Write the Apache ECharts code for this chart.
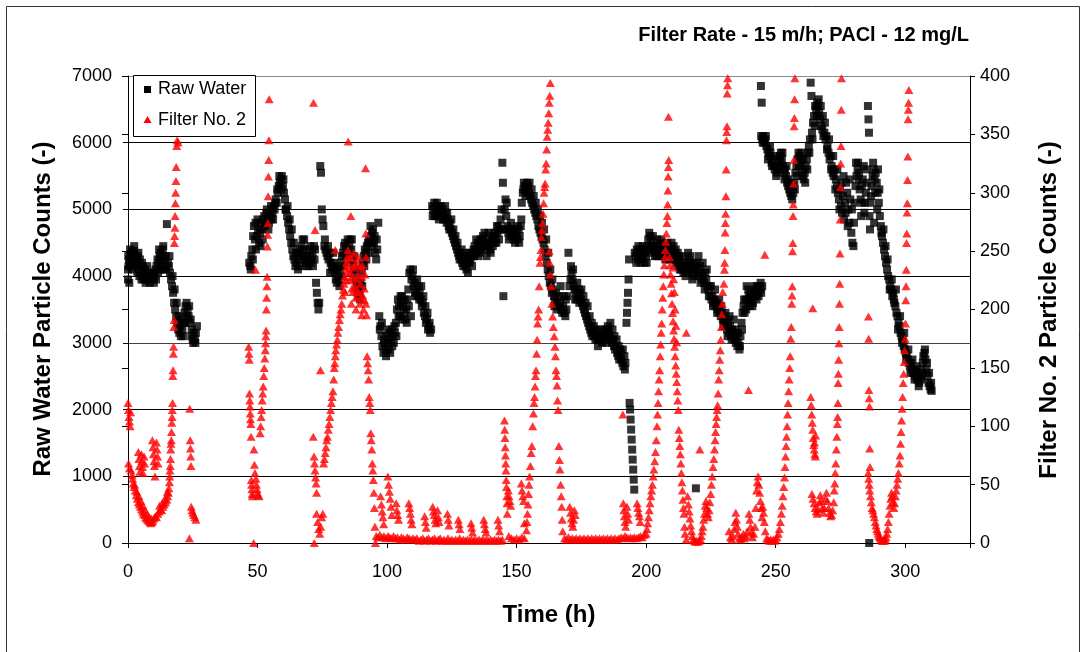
<!DOCTYPE html>
<html><head><meta charset="utf-8">
<script src="https://cdn.jsdelivr.net/npm/echarts@6/dist/echarts.min.js"></script>
<style>html,body{margin:0;padding:0;background:#fff}#c{width:1083px;height:652px}</style>
</head><body><div id="c"></div>
<script>
const xTicks=[0,50,100,150,200,250,300];
const leftTicks=[0,1000,2000,3000,4000,5000,6000,7000];
const rightTicks=[0,50,100,150,200,250,300,350,400];

// Raw water particle counts [time h, counts]
const rawA=[[0,3950],[0,4100],[0.1,4300],[0.2,4150],[0.4,4250],[0.7,4200],[1,4320],[1.4,4350],[1.8,4280],[2.2,4380],[2.6,4330],[3,4250],[3.4,4200],[3.8,4300],[4.2,4150],[4.6,4250],[5,4100],[5.4,4200],[5.8,4150],[6.2,4050],[6.6,4100],[7,4000],[7.4,4150],[7.8,4050],[8.2,3980],[8.6,4050],[9,4000],[9.4,3950],[9.8,4050],[10.2,4000],[10.6,4100],[11,4150],[11.4,4250],[11.8,4200],[12.2,4300],[12.6,4350],[13,4250],[13.4,4400],[13.8,4300],[14.2,4200],[14.6,4300],[15,4780],[15.4,4200],[15.8,4150],[16.2,4050],[16.6,3950],[17,3850],[17.4,3750],[17.8,3600],[18.2,3500],[18.6,3400],[19,3300],[19.4,3200],[19.8,3150],[20.2,3250],[20.6,3350],[21,3200],[21.4,3300],[21.8,3450],[22.2,3550],[22.6,3600],[23,3500],[23.4,3400],[23.8,3300],[24.2,3350],[24.6,3200],[25,3050],[25.4,3150],[25.8,3050],[26.2,3150],[26.6,3250]];
const rawA2=[[0.5,3900],[1.2,4150],[2,4100],[2.8,4150],[3.6,4050],[4.4,4000],[5.2,3950],[6,3950],[6.8,3900],[7.6,3950],[8.4,3900],[9.2,3950],[10,3900],[10.8,3950],[11.6,4050],[12.4,4100],[13.2,4150],[14,4100],[14.8,4100],[16,4300],[17.2,4000],[18,3800],[18.8,3600],[19.6,3400],[20.4,3100],[21.2,3100],[22,3300],[22.8,3400],[23.6,3550],[24.4,3100],[25.2,3000],[26,3000],[0.8,4400],[2.4,4450],[4,4350],[12,4400],[13.6,4450]];
const rawB=[[46.8,4200],[47.2,4150],[47.6,4300],[48,4400],[48.3,4600],[48.6,4750],[49,4550],[49.4,4400],[49.8,4600],[50.2,4700],[50.6,4500],[51,4650],[51.4,4800],[51.8,4700],[52.2,4850],[52.6,4900],[53,4800],[53.4,4950],[53.8,4850],[54.2,4700],[54.6,4900],[55,4950],[55.4,4850],[55.8,4950],[56.2,5050],[56.6,5000],[57,5150],[57.4,5100],[57.8,5250],[58.2,5350],[58.6,5400],[59,5450],[59.4,5500],[59.8,5350],[60.2,5250],[60.6,5150],[61,5000],[61.4,4900],[61.8,4800],[62.2,4700],[62.6,4600],[63,4500],[63.4,4400],[63.8,4300],[64.2,4250],[64.6,4150],[65,4200],[65.4,4350],[65.8,4250],[66.2,4150],[66.6,4350],[67,4450],[67.4,4550],[67.8,4400],[68.2,4250],[68.6,4200],[69,4300],[69.4,4250],[69.8,4400],[70.2,4300],[70.6,4200],[71,4250],[71.4,4150],[71.8,4450],[72.2,4400],[72.6,3900],[72.9,3750],[73.2,3600],[73.5,3500],[73.8,3600],[74.2,5650],[74.5,5550],[74.8,5000],[75.1,4850],[75.4,4750],[75.8,4450],[76.2,4400],[76.6,4350],[77,4300],[77.4,4250],[77.8,4350],[78.2,4200],[78.6,4150],[79,4100],[79.4,4200],[79.8,4050],[80.2,3950],[80.6,3900],[81,4000],[81.4,3950],[81.8,4100],[82.2,4200],[82.6,4300],[83,4350],[83.4,4450],[83.8,4500],[84.2,4400],[84.6,4300],[85,4350],[85.4,4450],[85.8,4550],[86.2,4400],[86.6,4250],[87,4150],[87.4,4050],[87.8,3950],[88.2,3850],[88.6,3750],[89,3700],[89.4,3750],[89.8,3900],[90.2,4050],[90.6,4200],[91,4300],[91.4,4400],[91.8,4350],[92.2,4450],[92.6,4500],[93,4550],[93.4,4500],[93.8,4600],[94.2,4650],[94.6,4700],[95,4500],[95.4,4350],[95.8,4250],[96.2,4400],[96.6,4800],[97,3400],[97.4,3250],[97.8,3100],[98.2,2950],[98.6,2850],[99,3000],[99.4,2900],[99.8,3100],[100.2,3000],[100.6,2900],[101,3150],[101.4,3050],[101.8,3200],[102.2,3100],[102.6,3000],[103,3150],[103.4,3300],[103.8,3500],[104.2,3650],[104.6,3550],[105,3400],[105.4,3600],[105.8,3700],[106.2,3550],[106.6,3450],[107,3350],[107.4,3500],[107.8,3650],[108.2,3800],[108.6,4050],[109,4100],[109.4,3950],[109.8,4000],[110.2,3850],[110.6,3900],[111,3750],[111.4,3800],[111.8,3700],[112.2,3850],[112.6,3750],[113,3650],[113.4,3550],[113.8,3600],[114.2,3450],[114.6,3400],[115,3300],[115.4,3350],[115.8,3200],[116.2,3250],[116.6,3150],[117,3200]];
const rawB2=[[47.4,4100],[48.2,4250],[49.2,4800],[50,4850],[51.2,4450],[52,4550],[52.8,4750],[53.6,5000],[54.4,4800],[55.2,5050],[56,4850],[56.8,5100],[57.6,5300],[58.4,5500],[59.2,5300],[60,5450],[60.8,5000],[61.6,5050],[62.4,4850],[63.2,4700],[64,4500],[64.8,4350],[65.6,4100],[66.4,4400],[67.2,4300],[68,4550],[68.8,4150],[69.6,4150],[70.4,4450],[71.2,4350],[72,4250],[76,4550],[77.2,4450],[78,4050],[79.2,4350],[80,4150],[80.8,4100],[81.6,3850],[82.4,4000],[83.2,4150],[84,4300],[84.8,4550],[85.6,4250],[86.4,4550],[87.2,4300],[88,4100],[88.8,3900],[89.6,3650],[90.4,3850],[91.2,4150],[92,4250],[92.8,4350],[93.6,4750],[94.4,4450],[95.2,4600],[96,4550],[97.2,3200],[98,3300],[98.8,3050],[99.6,2800],[100.4,3200],[101.2,2850],[102,2950],[102.8,3250],[103.6,3100],[104.4,3400],[105.2,3700],[106,3350],[106.8,3650],[107.6,3300],[108.4,3550],[109.2,3400],[110,4100],[110.8,3700],[111.6,3950],[112.4,3650],[113.2,3850],[114,3700],[114.8,3550],[115.6,3450],[116.4,3300]];
const rawC=[[117.4,5050],[117.8,5000],[118.2,5100],[118.6,4950],[119,4900],[119.4,5000],[119.8,5050],[120.2,4950],[120.6,4900],[121,4950],[121.4,5000],[121.8,4900],[122.2,4850],[122.6,4950],[123,4800],[123.4,4850],[123.8,4750],[124.2,4800],[124.6,4700],[125,4650],[125.4,4600],[125.8,4550],[126.2,4500],[126.6,4450],[127,4400],[127.4,4350],[127.8,4300],[128.2,4350],[128.6,4250],[129,4200],[129.4,4150],[129.8,4250],[130.2,4150],[130.6,4100],[131,4200],[131.4,4300],[131.8,4200],[132.2,4250],[132.6,4350],[133,4300],[133.4,4400],[133.8,4450],[134.2,4350],[134.6,4400],[135,4500],[135.4,4450],[135.8,4350],[136.2,4400],[136.6,4550],[137,4600],[137.4,4500],[137.8,4450],[138.2,4400],[138.6,4500],[139,4550],[139.4,4450],[139.8,4400],[140.2,4500],[140.6,4600],[141,4550],[141.4,4650],[141.8,4600],[142.2,4500],[142.6,4650],[143,4750],[143.4,4700],[143.8,4850],[144.2,5000],[144.5,5700],[144.7,5400],[144.9,3700],[145.1,4700],[145.4,5000],[145.7,5150],[146,4900],[146.4,4750],[146.8,4650],[147.2,4700],[147.6,4600],[148,4700],[148.4,4600],[148.8,4550],[149.2,4700],[149.6,4600],[150,4650],[150.4,4550],[150.8,4700],[151.2,4600],[151.6,4750],[152,5100],[152.4,5250],[152.8,5400],[153.2,5350],[153.6,5300],[154,5400],[154.4,5350],[154.8,5250],[155.2,5200],[155.6,5150],[156,5100],[156.4,5050],[156.8,5000],[157.2,4950],[157.6,4900],[158,4850],[158.4,4750],[158.8,4700],[159.2,4650],[159.6,4600],[160,4550],[160.4,4500],[160.8,4400],[161.2,4300],[161.6,4200],[162,4100],[162.4,4000],[162.8,3900],[163.2,3850],[163.6,3750],[164,3800],[164.4,3700],[164.8,3650],[165.2,3750],[165.6,3600],[166,3550]];
const rawC2=[[117.6,4900],[118.4,4900],[119.2,5100],[120,4850],[120.8,5050],[121.6,4850],[122.4,5050],[123.2,4950],[124,4700],[124.8,4850],[125.6,4700],[126.4,4600],[127.2,4500],[128,4250],[128.8,4400],[129.6,4350],[130.4,4300],[131.2,4050],[132,4350],[132.8,4150],[133.6,4300],[134.4,4550],[135.2,4300],[136,4550],[136.8,4450],[137.6,4650],[138.4,4300],[139.2,4650],[140,4350],[140.8,4450],[141.6,4500],[142.4,4750],[143.2,4550],[144,4700],[146.2,5100],[147,4550],[147.8,4800],[148.6,4700],[149.4,4500],[150.2,4750],[151,4500],[151.8,4850],[152.6,5300],[153.4,5200],[154.2,5250],[155,5400],[155.8,5300],[156.6,5200],[157.4,5100],[158.2,5000],[159,4900],[159.8,4800],[160.6,4700],[161.4,4550],[162.2,4350],[163,4100],[163.8,3950],[164.6,3550],[165.4,3500]];
const rawD=[[166.4,3700],[166.8,3600],[167.2,3500],[167.6,3450],[168,3550],[168.4,3450],[168.8,3400],[169.2,3500],[169.6,3700],[170,4350],[170.4,3850],[170.8,3950],[171.2,4050],[171.6,3950],[172,3850],[172.4,3800],[172.8,3750],[173.2,3650],[173.6,3700],[174,3800],[174.4,3750],[174.8,3650],[175.2,3600],[175.6,3550],[176,3500],[176.4,3450],[176.8,3400],[177.2,3350],[177.6,3300],[178,3250],[178.4,3200],[178.8,3150],[179.2,3100],[179.6,3150],[180,3100],[180.4,3050],[180.8,3100],[181.2,3050],[181.6,3100],[182,3050],[182.4,3100],[182.8,3150],[183.2,3100],[183.6,3050],[184,3100],[184.4,3150],[184.8,3200],[185.2,3250],[185.6,3200],[186,3100],[186.4,3050],[186.8,3000],[187.2,3050],[187.6,2950],[188,2900],[188.4,2950],[188.8,2850],[189.2,2800],[189.6,2750],[190,2900],[190.4,2750],[190.8,2700],[191.2,2650],[191.6,2800],[192,2700],[192.4,3300],[192.6,3450],[192.8,3600],[193,3750],[193.2,3950],[193.4,4250],[193.6,2100],[193.8,2000],[194,1850],[194.2,1700],[194.4,1550],[194.6,1400],[194.8,1250],[195,1100],[195.2,950],[195.4,800]];
const rawD2=[[167,3850],[168.2,3700],[169,3650],[171,4150],[171.8,4100],[172.6,3650],[173.4,3900],[174.2,3600],[175,3800],[175.8,3700],[176.6,3600],[177.4,3550],[178.2,3400],[179,3300],[179.8,3250],[180.6,3200],[181.4,2950],[182.2,3200],[183,3000],[183.8,3200],[184.6,3000],[185.4,3100],[186.2,3300],[187,3200],[187.8,3100],[188.6,3050],[189.4,2950],[190.2,2850],[191,2900],[191.8,2600]];
const rawE=[[195.6,4350],[196,4300],[196.4,4400],[196.8,4250],[197.2,4350],[197.6,4300],[198,4400],[198.4,4250],[198.8,4300],[199.2,4400],[199.6,4350],[200,4300],[200.4,4450],[200.8,4550],[201.2,4650],[201.6,4600],[202,4500],[202.4,4400],[202.8,4350],[203.2,4450],[203.6,4400],[204,4300],[204.4,4350],[204.8,4450],[205.2,4500],[205.6,4400],[206,4350],[206.4,4300],[206.8,4450],[207.2,4400],[207.6,4350],[208,4400],[208.4,4450],[208.8,4300],[209.2,4350],[209.6,4400],[210,4300],[210.4,4250],[210.8,4350],[211.2,4300],[211.6,4200],[212,4250],[212.4,4150],[212.8,4300],[213.2,4200],[213.6,4100],[214,4150],[214.4,4050],[214.8,4100],[215.2,4000],[215.6,4050],[216,4150],[216.4,4250],[216.8,4200],[217.2,4100],[217.6,4150],[218,4050],[218.4,4000],[218.8,4100],[219.2,820],[219.6,4200],[220,4100],[220.4,4000],[220.8,4150],[221.2,4050],[221.6,3950],[222,4000],[222.4,3900],[222.8,4050],[223.2,3950],[223.6,3850],[224,3800],[224.4,3850],[224.8,3700],[225.2,3650],[225.6,3700],[226,3600],[226.4,3650],[226.8,3550],[227.2,3600],[227.6,3500],[228,3550],[228.4,3450],[228.8,3400],[229.2,3450],[229.6,3350],[230,3300],[230.4,3250],[230.8,3350],[231.2,3200],[231.6,3300],[232,3150],[232.4,3250],[232.8,3100],[233.2,3200],[233.6,3150],[234,3050],[234.4,3200],[234.8,3100],[235.2,2950],[235.6,3000],[236,2900],[236.4,3100],[236.8,3300],[237.2,3450],[237.6,3550],[238,3450],[238.4,3650],[238.8,3850],[239.2,3600],[239.6,3700],[240,3550],[240.4,3650],[240.8,3700],[241.2,3600],[241.6,3750],[242,3700],[242.4,3800],[242.8,3850],[243.2,3750],[243.6,3850],[244,3800],[244.4,3750],[244.8,3850]];
const rawE2=[[196.2,4200],[197,4450],[197.8,4200],[198.6,4450],[199.4,4200],[200.2,4200],[201,4400],[201.8,4450],[202.6,4600],[203.4,4300],[204.2,4550],[205,4300],[205.8,4550],[206.6,4450],[207.4,4250],[208.2,4500],[209,4250],[209.8,4500],[210.6,4450],[211.4,4400],[212.2,4350],[213,4100],[213.8,4300],[214.6,4200],[215.4,4150],[216.2,4350],[217,4300],[217.8,3950],[218.6,4200],[220.2,4300],[221,3900],[221.8,4200],[222.6,3800],[223.4,4100],[224.2,3700],[225,3850],[225.8,3550],[226.6,3800],[227.4,3450],[228.2,3650],[229,3550],[229.8,3250],[230.6,3450],[231.4,3100],[232.2,3400],[233,3050],[233.8,3350],[234.6,3000],[235.4,3150],[236.2,2950],[237,3200],[237.8,3650],[238.6,3500],[239.4,3800],[240.2,3750],[241,3550],[241.8,3850],[242.6,3650],[243.4,3700],[244.2,3900]];
const rawF=[[244.3,6850],[244.6,6600],[244.4,6100],[244.8,6050],[245.2,6100],[245.6,6000],[246,6050],[246.4,5950],[246.8,5900],[247.2,5850],[247.6,5800],[248,5850],[248.4,5700],[248.8,5750],[249.2,5650],[249.6,5600],[250,5650],[250.4,5550],[250.8,5600],[251.2,5750],[251.6,5800],[252,5850],[252.4,5750],[252.8,5650],[253.2,5550],[253.6,5600],[254,5500],[254.4,5400],[254.8,5350],[255.2,5300],[255.6,5250],[256,5200],[256.4,5150],[256.8,5250],[257.2,5400],[257.6,5550],[258,5650],[258.4,5750],[258.8,5850],[259.2,5800],[259.6,5700],[260,5600],[260.4,5500],[260.8,5450],[261.2,5550],[261.6,5650],[262,5750],[262.4,5850],[262.8,5950],[263.2,6050],[263.5,6900],[263.8,6700],[264,6150],[264.4,6300],[264.8,6400],[265.2,6550],[265.6,6500],[266,6600],[266.4,6550],[266.8,6450],[267.2,6350],[267.6,6250],[268,6200],[268.4,6100],[268.8,6150],[269.2,6050],[269.6,6100],[270,5950],[270.4,5850],[270.8,5750],[271.2,5800],[271.6,5650],[272,5550],[272.4,5500],[272.8,5600],[273.2,5450],[273.6,5350],[274,5250],[274.4,5150],[274.8,5300],[275.2,5050],[275.6,4950],[276,5200],[276.4,4850],[276.8,5100],[277.2,5400],[277.6,5250],[278,5000],[278.4,4800],[278.8,5150],[279.2,4650],[279.6,4500],[280,4450],[280.4,5100],[280.8,5350],[281.2,5500],[281.6,5600],[281.8,5700],[282,5450],[282.4,5300],[282.8,5150],[283,4900],[283.2,5350],[283.6,5450],[284,5650],[284.4,5100],[284.8,5250],[285.2,5400],[285.6,6550],[285.8,6350],[286,6150],[286.1,0],[286.2,4900],[286.4,4700],[286.6,5100],[287,5350],[287.4,5500],[287.8,5600],[288,4800],[288.2,5450],[288.6,5550],[289,5400],[289.5,5600],[289.4,5250],[289.8,5100],[290.2,4900],[290.6,4750],[291,4600],[291.4,4500],[291.8,4400],[292.2,4300],[292.6,4200],[293,4100],[293.4,4000],[293.8,3950],[294.2,3850],[294.6,3800],[295,3700],[295.4,3750],[295.8,3600],[296.2,3550],[296.6,3450],[297,3400],[297.4,3300],[297.8,3250],[298.2,3150],[298.6,3100],[299,3050],[299.4,2950],[299.8,2900],[300.2,2850],[300.6,2800],[301,2750],[301.4,2700],[301.8,2650],[302.2,2700],[302.6,2600],[303,2550],[303.4,2600],[303.8,2500],[304.2,2550],[304.6,2450],[305,2500],[305.4,2400],[305.8,2500],[306.2,2450],[306.6,2550],[307,2800],[307.4,2850],[307.8,2750],[308.2,2600],[308.6,2500],[309,2400],[309.4,2350],[309.8,2300],[310.2,2280]];
const rawF2=[[245,6000],[246.2,6100],[247,5750],[247.8,5950],[248.6,5650],[249.4,5800],[250.2,5500],[251,5650],[251.8,5700],[252.6,5850],[253.4,5450],[254.2,5650],[255,5450],[255.8,5400],[256.6,5350],[257.4,5300],[258.2,5500],[259,5650],[259.8,5850],[260.6,5750],[261.4,5400],[262.2,5600],[263,5850],[264.2,6050],[265,6250],[265.8,6400],[266.6,6650],[267.4,6550],[268.2,6400],[269,6300],[269.8,5900],[270.6,6050],[271.4,5600],[272.2,5800],[273,5300],[273.8,5600],[274.6,5000],[275.4,5400],[276.2,5500],[277,4950],[277.8,4750],[278.6,5450],[279.4,5000],[280.2,4800],[281,5700],[282.2,5550],[283.4,5100],[284.2,4950],[285,5600],[286.8,5200],[287.6,5700],[288.4,5250],[289.2,5000],[290,5300],[290.8,4650],[291.6,4700],[292.4,4450],[293.2,4250],[294,3800],[294.8,3950],[295.6,3650],[296.4,3800],[297.2,3200],[298,3400],[298.8,3000],[299.6,3150],[300.4,2750],[301.2,2900],[302,2550],[302.8,2750],[303.6,2450],[304.4,2650],[305.2,2350],[306,2600],[306.8,2700],[307.6,2900],[308.4,2700],[309.2,2550],[310,2400]];

// Filter No. 2 particle counts [time h, counts]
const filtA=[[0,120],[0.2,114],[0.4,108],[0.6,104],[0.8,100],[1,112],[0.2,68],[0.6,64],[1.2,62],[1.6,58],[2,51],[2.4,48],[2.8,45],[3.2,41],[3.6,38],[4,35],[4.4,33],[4.8,31],[5.2,29],[5.6,27],[6,25],[6.4,24],[6.8,22],[7.2,21],[7.6,20],[8,19],[8.4,18],[8.8,17],[9.2,18],[9.6,19],[4,78],[4.2,72],[4.4,66],[4.6,61],[5.2,76],[5.4,70],[5.6,65],[5.8,60],[6.2,74],[6.4,68],[9.4,88],[9.6,82],[9.8,76],[10,70],[10.2,66],[10.4,57],[11,86],[11.2,80],[11.4,74],[11.6,68],[10,21],[10.5,23],[11,22],[11.5,25],[12,27],[12.5,29],[13,28],[13.5,31],[14,33],[14.5,35],[15,37],[15.3,40],[15.6,43],[15.8,47],[16,52],[16.1,57],[16.2,62],[16.3,66],[16.4,72],[16.5,80],[16.6,85],[16.7,88],[16.8,95],[16.9,103],[17,108],[17.1,114],[17.2,120],[17.3,143],[17.4,148],[17.5,162],[17.6,168],[17.7,185],[17.8,191],[17.9,257],[18,263],[18.1,270],[18.2,280],[18.3,291],[18.4,300],[18.5,310],[18.6,322],[18.8,340],[19,345],[19.3,343],[23.8,115],[24,88],[24.1,81],[24.2,74],[24.3,66],[23.7,4],[24.4,31],[24.7,28],[25,26],[25.4,24],[25.8,22],[26.2,20]];
const filtA2=[[1.8,55],[2.6,50],[3.4,44],[4.2,40],[5,36],[5.8,32],[6.6,28],[7.4,25],[8.2,22],[9,21],[12.2,32],[13.2,34],[14.2,38],[15.2,44],[84.2,225],[85,232],[85.6,245],[86.8,215],[87.5,238],[88.3,215],[89,245],[89.8,210],[90.5,238],[91.3,208],[83.8,215],[86.2,205],[88,200],[90.2,195]];
const filtB=[[46.6,168],[46.7,162],[46.8,157],[46.9,128],[47,122],[47.1,117],[47.2,111],[47.3,106],[47.4,102],[47.5,91],[47.6,54],[47.7,50],[47.8,46],[47.9,42],[48,40],[48.5,0],[48.6,80],[48.8,67],[49,60],[49.2,234],[49.4,55],[49.6,50],[49.8,46],[50,43],[50.3,41],[50.6,40],[51,94],[51.2,100],[51.4,108],[51.6,114],[51.8,122],[52,128],[52.2,134],[52.4,143],[52.6,150],[52.8,158],[53,165],[53.1,171],[53.2,177],[53.3,182],[53.4,200],[53.5,210],[53.6,220],[53.7,228],[53.8,254],[53.9,264],[54,274],[54.1,297],[54.2,314],[54.3,328],[54.4,345],[54.5,380]];
const filtC=[[71.6,377],[72.2,268],[71.5,91],[71.8,74],[72,68],[72.2,62],[72.4,56],[72.6,51],[72.8,43],[71.9,0],[72.8,25],[73.2,18],[73.6,12],[74,8],[74.4,14],[74.8,22],[75.2,25],[74.3,148],[75.5,68],[75.8,72],[76.1,77],[76.4,82],[76.7,88],[77,91],[77.3,97],[77.6,102],[77.9,108],[78.2,114],[78.5,120],[78.8,125],[79.1,130],[79.4,140],[79.6,150],[79.8,154],[80,160],[80.2,165],[80.5,170],[80.8,174],[81,180],[81.3,185],[81.6,191],[81.9,196],[82.2,200],[82.5,205],[82.8,212],[83.1,217],[80,251],[83.4,222],[83.7,228],[84,235],[84.3,240],[84.6,245],[84.9,251],[85.2,238],[85.5,225],[85.8,232],[86.1,244],[86.4,218],[86.7,228],[87,236],[87.3,248],[87.6,220],[87.9,210],[88.2,226],[88.5,240],[88.8,230],[89.1,215],[89.4,205],[89.7,222],[90,236],[90.3,228],[90.6,212],[90.9,200],[91.2,218],[91.5,230],[91.8,205],[92.1,195],[85,344],[86,280],[91.7,321],[91.8,265],[91.9,245],[92.3,160],[92.5,154],[92.7,148],[92.9,140],[93.1,125],[93.3,120],[93.5,114],[93.7,94],[93.9,88],[94.1,80],[94.3,68],[94.5,62],[94.7,54],[94.9,43],[95.1,30],[95.3,14],[95.5,0]];
const filtD=[[95.8,6],[96.5,5],[97.2,7],[98,5],[98.8,6],[99.5,4],[100.3,6],[101,5],[101.8,4],[102.5,6],[103.3,4],[104,5],[104.8,3],[105.5,5],[106.3,4],[107,3],[107.8,5],[108.5,4],[109.3,3],[110,4],[110.8,3],[111.5,4],[112.3,2],[113,3],[113.8,4],[114.5,2],[115.3,3],[116,4],[116.8,2],[117.5,3],[118.3,4],[119,2],[119.8,3],[120.5,4],[121.3,2],[122,3],[122.8,2],[123.5,4],[124.3,2],[125,3],[125.8,2],[126.5,3],[127.3,2],[128,4],[128.8,2],[129.5,3],[130.3,2],[131,3],[131.8,2],[132.5,3],[133.3,2],[134,3],[134.8,2],[135.5,3],[136.3,2],[137,3],[137.8,2],[138.5,3],[139.3,2],[140,3],[140.8,2],[141.5,3],[142.3,2],[143,3],[143.8,2],[144.5,3],[97.5,40],[97.8,33],[98.1,27],[98.4,22],[98.7,16],[100.3,57],[100.6,50],[100.9,44],[101.2,38],[101.5,31],[101.8,24],[103.5,34],[103.8,28],[104.1,24],[104.4,20],[108.4,34],[108.7,30],[109,25],[109.3,20],[109.6,16],[114.5,23],[114.8,18],[115.1,13],[117.6,31],[117.9,27],[118.2,24],[118.5,20],[118.8,17],[119.5,28],[119.8,22],[120.1,18],[123.3,25],[123.6,20],[123.9,15],[127.5,20],[127.8,16],[128.1,12],[132.4,17],[132.7,13],[133,9],[137.3,20],[137.6,16],[137.9,12],[138.2,9],[142.8,20],[143.1,15],[143.4,10],[145.3,105],[145.4,97],[145.5,90],[145.6,82],[145.7,75],[145.8,68],[145.9,62],[146,54],[146.1,48],[146.2,40],[146.3,34],[146.4,25],[146.8,45],[147.1,40],[147.4,36],[147.7,32],[151.8,51],[152.1,45],[152.4,40],[152.7,36],[153,17],[147,6],[148,4],[149,3],[150,4],[151,3],[152,5],[153,4]];
const filtE=[[153.8,11],[154,18],[154.2,25],[154.4,33],[154.6,42],[154.8,50],[155,57],[155.3,66],[155.6,77],[155.9,83],[156.2,100],[156.5,111],[156.7,120],[156.9,125],[157.1,134],[157.3,143],[157.5,148],[157.7,162],[157.9,174],[158.1,188],[158.3,194],[158.5,200],[158.7,220],[159,240],[159.2,245],[159.4,251],[159.6,262],[159.8,268],[160,274],[160.2,282],[160.4,291],[160.6,300],[160.8,305],[161,308],[161.2,320],[161.4,325],[161.6,337],[161.8,348],[162,354],[162.2,360],[162.4,368],[162.6,377],[162.8,383],[163,394],[162.6,250],[162.8,240],[163,230],[163.3,220],[163.6,205],[163.9,194],[164.2,185],[164.5,177],[164.8,168],[165,160],[165.2,148],[165.4,143],[165.6,135],[165.8,122],[166,114],[166.3,83],[166.5,71],[166.7,63],[167,50],[167.2,40],[167.4,31],[167.6,20],[167.8,10]];
const filtF=[[168.5,4],[169.2,3],[170,5],[170.8,3],[171.5,4],[172.3,3],[173,4],[173.8,3],[174.5,4],[175.3,3],[176,4],[176.8,3],[177.5,4],[178.3,3],[179,4],[179.8,3],[180.5,4],[181.3,3],[182,4],[182.8,3],[183.5,4],[184.3,3],[185,4],[185.8,3],[186.5,4],[187.3,3],[188,4],[188.8,3],[189.5,4],[190.3,5],[191,4],[191.8,6],[192.5,5],[193.3,4],[194,5],[194.8,4],[195.5,5],[196.3,4],[197,5],[197.8,6],[198.5,5],[199.3,7],[200,8],[170.5,31],[170.8,26],[171.1,21],[171.4,17],[171.7,14],[172,20],[172.3,28],[172.6,24],[191,110],[191.2,34],[191.4,28],[191.6,23],[191.8,18],[192.1,14],[192.6,31],[192.9,25],[193.2,20],[196.5,34],[196.8,30],[197.1,26],[197.4,23],[197.7,18],[200.3,12],[200.6,17],[200.9,22],[201.2,28],[201.5,34],[201.8,40],[202.1,45],[202.4,50],[202.7,57],[203,63],[203.3,70],[203.6,78],[203.9,88],[204.2,100],[204.4,110],[204.6,120],[204.8,130],[205,140],[205.2,148],[205.4,160],[205.6,170],[205.8,180],[206,188],[206.2,200],[206.4,210],[206.6,220],[206.8,230],[207,238],[207.2,245],[207.4,251],[207.6,258],[207.8,265],[208,274],[208.2,280],[208.3,290],[208.4,302],[208.5,314],[208.6,322],[208.7,328],[208.6,365],[209,245],[209.2,238],[209.4,230],[209.6,222],[209.8,214],[210,205],[210.2,197],[210.4,190],[210.6,182],[210.8,175],[211,168],[211.2,160],[211.4,152],[211.6,145],[211.8,138],[212,130],[212.2,122],[212.4,114],[210.3,236],[210.6,226],[210.9,215],[211.2,200],[211.5,186],[211.8,172],[212.6,97],[212.8,90],[213,83],[213.2,76],[213.4,68],[213.6,60],[213.8,52],[214,45],[214.2,37],[214.4,30],[214.6,25],[215.5,180],[214.8,14],[215,8],[215.5,3]];
const filtG=[[216,40],[216.3,33],[216.6,27],[216.9,21],[217.2,15],[217.5,10],[217.8,6],[218.2,3],[218.6,2],[219,1],[219.5,2],[220,1],[220.5,2],[221,3],[220.7,80],[221.3,6],[221.6,10],[221.9,14],[222.2,20],[222.5,25],[222.8,32],[223.1,36],[223.4,30],[223.7,25],[224,22],[224.3,28],[224.6,35],[224.9,42],[225.2,50],[225.5,57],[225.8,65],[226.1,72],[226.4,80],[226.6,88],[226.8,95],[227,102],[227.2,108],[227.4,114],[227.6,118],[227.8,128],[228,140],[228.2,148],[228.4,157],[228.6,165],[228.8,174],[229,185],[229.2,196],[229.4,205],[229.6,215],[230,222],[230.2,234],[230.3,240],[230.4,251],[230.5,266],[230.6,274],[230.7,282],[230.8,297],[230.9,320],[231,345],[231.1,352],[231.2,357],[231.3,385],[231.4,392],[231.5,398]];
const filtH=[[232,10],[232.5,5],[233,3],[233.5,6],[234,12],[234.3,18],[234.6,26],[234.9,20],[235.2,14],[235.5,8],[236,4],[236.5,3],[237,5],[237.5,8],[238,4],[238.5,6],[239,10],[239.5,131],[239.7,25],[240,20],[240.3,14],[240.6,9],[241,5],[241.5,8],[242,14],[242.3,30],[242.6,45],[242.9,52],[243.2,57],[243.5,50],[243.8,43],[244.1,36],[244.4,30],[244.7,22],[245,31],[245.3,26],[245.6,18],[246,10],[245.8,247],[246.5,4],[247,3],[247.5,2],[248,3],[248.5,2],[249,3],[249.5,2],[250,3],[250.5,5]];
const filtI=[[251,8],[251.4,12],[251.8,18],[252.2,25],[252.5,32],[252.8,40],[253.1,48],[253.4,56],[253.6,65],[253.8,74],[254,83],[254.2,91],[254.4,100],[254.6,110],[254.8,120],[255,130],[255.2,140],[255.4,150],[255.6,160],[255.8,175],[256,185],[256.2,205],[256.3,212],[256.4,220],[256.5,250],[256.6,257],[256.7,280],[256.8,290],[256.9,308],[257,328],[257.1,357],[257.2,364],[257.3,380],[257.4,398]];
const filtJ=[[263.5,125],[263.7,118],[263.9,110],[264.1,103],[264.3,97],[264.5,90],[264.7,84],[264.9,80],[265.1,76],[265.3,74],[264.3,201],[265,86],[265.4,92],[264,42],[264.4,38],[264.8,34],[265.2,30],[265.6,27],[266,25],[266.4,29],[266.8,35],[267.2,41],[267.6,36],[268,30],[268.4,26],[268.8,30],[269.2,38],[269.6,43],[270,36],[270.4,30],[270.8,26],[271.2,23],[271.6,24],[272,28],[272.4,35],[272.6,45],[272.8,51],[273,60],[273.2,68],[273.4,80],[273.6,91],[273.8,102],[273.9,108],[274,120],[274.1,137],[274.2,145],[274.3,157],[274.4,171],[274.5,185],[274.6,205],[274.7,222],[274.8,248],[274.9,277],[275,305],[275.1,325],[275.2,340],[275.3,371],[275.4,398]];
const filtK=[[285.8,194],[285.9,175],[286,131],[286.1,124],[286.2,117],[286.3,81],[286.4,65],[285.7,60],[285.9,55],[286.1,50],[286.3,45],[286.6,40],[286.9,35],[287.2,30],[287.5,28],[287.8,25],[288.1,22],[288.4,18],[288.7,15],[289,12],[289.3,10],[289.6,8],[289.9,6],[290.2,5],[290.5,4],[290.8,3],[291.1,2],[291.4,2],[291.7,3],[292,2],[292.3,3],[292.6,5],[292.9,8],[293.2,12],[293.5,18],[293.8,25],[294.1,32],[294.4,38],[294.7,43],[295,40],[295.3,35],[295.6,30],[295.9,34],[296.2,40],[296.5,45],[296.8,50],[297.1,55],[297.4,60],[297.7,68],[298,75],[298.2,85],[298.4,95],[298.6,105],[298.8,115],[299,125],[299.2,137],[299.4,145],[299.6,155],[299.8,165],[300,175],[300.1,188],[300.2,208],[300.3,220],[300.4,234],[300.5,257],[300.6,265],[300.7,283],[300.8,291],[300.9,311],[301,331],[301.1,363],[301.2,371],[301.3,377],[301.4,388]];

const rawWater=[].concat(rawA,rawA2,rawB,rawB2,rawC,rawC2,rawD,rawD2,rawE,rawE2,rawF,rawF2);
const filter2=[].concat(filtA,filtA2,filtB,filtC,filtD,filtE,filtF,filtG,filtH,filtI,filtJ,filtK);

const FONT='"Liberation Sans", Arial, Helvetica, sans-serif';
const chart=echarts.init(document.getElementById('c'),null,{renderer:'canvas'});
const option={
  animation:false,
  backgroundColor:'#ffffff',
  grid:{left:128,top:76,right:113,bottom:109,containLabel:false},
  xAxis:{type:'value',min:0,max:325,interval:50,
    axisLine:{show:true,onZero:false,lineStyle:{color:'#000',width:1}},
    axisTick:{show:true,length:5,lineStyle:{color:'#000'}},
    axisLabel:{fontSize:18,color:'#000',fontFamily:FONT,margin:20,
      formatter:v=>xTicks.includes(v)?String(v):''},
    splitLine:{show:false}},
  yAxis:[
    {type:'value',position:'left',min:0,max:7000,interval:1000,
      axisLine:{show:true,onZero:false,lineStyle:{color:'#000',width:1}},
      axisTick:{show:true,length:5,lineStyle:{color:'#000'}},
      axisLabel:{fontSize:18,color:'#000',fontFamily:FONT,margin:16,
        formatter:v=>leftTicks.includes(v)?String(v):''},
      splitLine:{show:true,lineStyle:{color:['#000','#000','#000','#444','#000','#000','#000','#888'],width:1}}},
    {type:'value',position:'right',min:0,max:400,interval:50,
      axisLine:{show:true,onZero:false,lineStyle:{color:'#000',width:1}},
      axisTick:{show:true,length:5,lineStyle:{color:'#000'}},
      axisLabel:{fontSize:18,color:'#000',fontFamily:FONT,margin:10,
        formatter:v=>rightTicks.includes(v)?String(v):''},
      splitLine:{show:false}},
    {type:'value',position:'right',min:0,max:400,interval:50,
      axisLine:{show:false},
      axisTick:{show:true,inside:true,length:6,lineStyle:{color:'#000'}},
      axisLabel:{show:false},splitLine:{show:false}}
  ],
  series:[
    {type:'scatter',name:'Raw Water',yAxisIndex:0,data:rawWater,symbol:'rect',symbolSize:8,
      itemStyle:{color:'#000000'},silent:true,z:2},
    {type:'scatter',name:'Filter No. 2',yAxisIndex:1,data:filter2,symbol:'triangle',symbolSize:[9,8],
      itemStyle:{color:'#ff0000'},silent:true,z:3}
  ],
  graphic:[
    {type:'rect',silent:true,z:0,shape:{x:6.5,y:6.5,width:1073,height:720},style:{fill:'none',stroke:'#333',lineWidth:1}},
    {type:'text',silent:true,x:969,y:35,style:{text:'Filter Rate - 15 m/h; PACl - 12 mg/L',align:'right',verticalAlign:'middle',font:'bold 20px '+FONT,fill:'#000'}},
    {type:'text',silent:true,x:43,y:309,rotation:Math.PI/2,style:{text:'Raw Water Particle Counts (-)',align:'center',verticalAlign:'middle',font:'bold 24px '+FONT,fill:'#000'}},
    {type:'text',silent:true,x:1049,y:310,rotation:Math.PI/2,style:{text:'Filter No. 2 Particle Counts (-)',align:'center',verticalAlign:'middle',font:'bold 24px '+FONT,fill:'#000'}},
    {type:'text',silent:true,x:549,y:615,style:{text:'Time (h)',align:'center',verticalAlign:'middle',font:'bold 24px '+FONT,fill:'#000'}},
    {type:'rect',silent:true,z:100,shape:{x:133.5,y:75.5,width:122,height:61},style:{fill:'#fff',stroke:'#000',lineWidth:1}},
    {type:'rect',silent:true,z:101,shape:{x:144,y:86,width:7,height:7},style:{fill:'#000'}},
    {type:'polygon',silent:true,z:101,shape:{points:[[147.5,116],[151.5,123],[143.5,123]]},style:{fill:'#ff0000'}},
    {type:'text',silent:true,z:101,x:158,y:89,style:{text:'Raw Water',align:'left',verticalAlign:'middle',font:'18px '+FONT,fill:'#000'}},
    {type:'text',silent:true,z:101,x:158,y:120,style:{text:'Filter No. 2',align:'left',verticalAlign:'middle',font:'18px '+FONT,fill:'#000'}}
  ]
};
chart.setOption(option);
</script>
</body></html>
